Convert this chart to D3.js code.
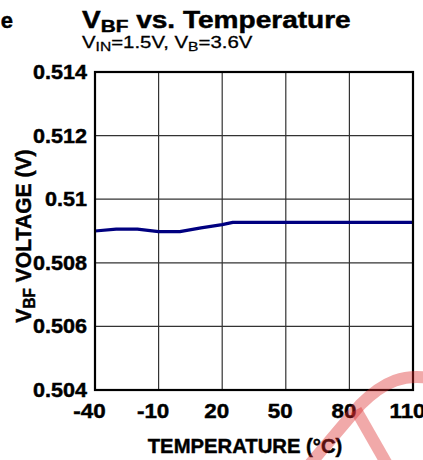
<!DOCTYPE html>
<html><head><meta charset="utf-8">
<script src="https://cdn.jsdelivr.net/npm/d3@7/dist/d3.min.js"></script>
<style>html,body{margin:0;padding:0;background:#fff}svg{display:block;font-family:"Liberation Sans",Arial,sans-serif}
.hv{stroke:#000;stroke-width:0.45px}</style>
</head><body>
<svg id="c" width="423" height="460"></svg>
<script>
const temps   = [-40, -30, -20, -10, 0, 10, 20, 25, 50, 80, 110];
const vbf     = [0.50900, 0.50906, 0.50906, 0.50898, 0.50898, 0.50910, 0.50920, 0.50927, 0.50927, 0.50927, 0.50927];
const xTicks  = [-40, -10, 20, 50, 80, 110];
const yTicks  = [0.504, 0.506, 0.508, 0.51, 0.512, 0.514];
const yTickLabels = ["0.504", "0.506", "0.508", "0.51", "0.512", "0.514"];

const svg = d3.select("#c");
const L = 95, R = 413, T = 72, B = 390;
const x = d3.scaleLinear().domain([-40, 110]).range([L, R]);
const y = d3.scaleLinear().domain([0.504, 0.514]).range([B, T]);

// partial letter from neighbouring chart
svg.append("text").attr("class", "hv").attr("x", 13).attr("y", 28).attr("text-anchor", "end")
  .attr("font-size", 22).attr("font-weight", "bold").text("e");

// title
const tg = svg.append("g").attr("transform", "translate(82,28) scale(1.22,1)");
const tt = tg.append("text").attr("class", "hv").attr("font-size", 23).attr("font-weight", "bold");
tt.append("tspan").text("V");
tt.append("tspan").attr("font-size", 17).attr("dy", 4).text("BF");
tt.append("tspan").attr("dy", -4).text(" vs. Temperature");

const sg = svg.append("g").attr("transform", "translate(82,48) scale(1.2,1)");
const st = sg.append("text").attr("font-size", 17).attr("stroke", "#000").attr("stroke-width", 0.3);
st.append("tspan").text("V");
st.append("tspan").attr("font-size", 13).attr("dy", 3).text("IN");
st.append("tspan").attr("dy", -3).text("=1.5V, V");
st.append("tspan").attr("font-size", 13).attr("dy", 3).text("B");
st.append("tspan").attr("dy", -3).text("=3.6V");

// grid
svg.append("g").selectAll("line").data(xTicks.slice(1, -1)).join("line")
  .attr("x1", d => x(d)).attr("x2", d => x(d)).attr("y1", T).attr("y2", B)
  .attr("stroke", "#333").attr("stroke-width", 1.2);
svg.append("g").selectAll("line").data(yTicks.slice(1, -1)).join("line")
  .attr("y1", d => y(d)).attr("y2", d => y(d)).attr("x1", L).attr("x2", R)
  .attr("stroke", "#333").attr("stroke-width", 1.2);

// line
svg.append("path").datum(temps.map((t, i) => [t, vbf[i]]))
  .attr("fill", "none").attr("stroke", "#000080").attr("stroke-width", 3.2)
  .attr("stroke-linejoin", "round")
  .attr("d", d3.line().x(d => x(d[0])).y(d => y(d[1])));

// frame
svg.append("rect").attr("x", L).attr("y", T).attr("width", R - L).attr("height", B - T)
  .attr("fill", "none").attr("stroke", "#000").attr("stroke-width", 2.2);

// y tick labels
svg.append("g").selectAll("g").data(yTicks).join("g")
  .attr("transform", d => `translate(87,${y(d) + 7}) scale(1.08,1)`)
  .append("text").attr("class", "hv").attr("text-anchor", "end").attr("font-size", 20).attr("font-weight", "bold")
  .text((d, i) => yTickLabels[i]);

// x tick labels
svg.append("g").selectAll("g").data(xTicks).join("g")
  .attr("transform", d => `translate(${x(d) - 5.5},418) scale(1.12,1)`)
  .append("text").attr("class", "hv").attr("text-anchor", "middle").attr("font-size", 20).attr("font-weight", "bold")
  .text(d => d);

// x title
svg.append("g").attr("transform", "translate(245,453) scale(0.965,1)")
  .append("text").attr("class", "hv").attr("text-anchor", "middle").attr("font-size", 21).attr("font-weight", "bold")
  .text("TEMPERATURE (°C)");

// y title
const yt = svg.append("g").attr("transform", "translate(31,236) rotate(-90) scale(0.96,1)")
  .append("text").attr("class", "hv").attr("text-anchor", "middle").attr("font-size", 22).attr("font-weight", "bold");
yt.append("tspan").text("V");
yt.append("tspan").attr("font-size", 16).attr("dy", 4).text("BF");
yt.append("tspan").attr("dy", -4).text(" VOLTAGE (V)");

// watermark
const wm = svg.append("g").attr("fill", "none").attr("stroke", "rgb(220,40,40)")
  .attr("stroke-opacity", 0.4).attr("stroke-width", 12);
wm.append("path").attr("d", "M430,378 C405,374 385,380 360,405 L305,470");
wm.append("path").attr("d", "M356,410 L388,466");
</script>
</body></html>
